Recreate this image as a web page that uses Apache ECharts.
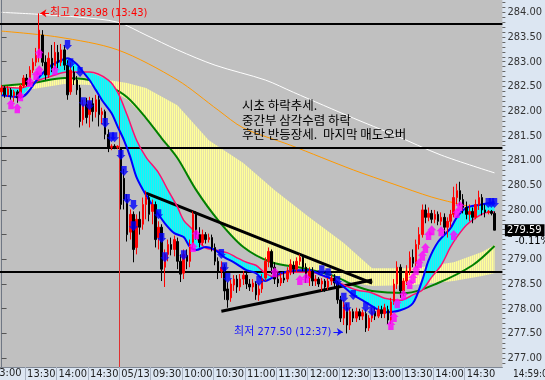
<!DOCTYPE html>
<html><head><meta charset="utf-8">
<script src="https://cdn.jsdelivr.net/npm/echarts@6/dist/echarts.min.js"></script>
<style>html,body{margin:0;padding:0;background:#dce6f2}#c{width:545px;height:380px}</style>
</head><body><div id="c"></div>
<script>
// ---- x axis: bar index (3-minute bars), 05/12 13:06 .. 05/13 14:57 ----
const xTickPos = [7.5,17.5,27.5,37.5,47.5,57.5,67.5,77.5,87.5,97.5,107.5,117.5,127.5,137.5,147.5];
const xTickLabels = ['13:30','14:00','14:30','05/13','09:30','10:00','10:30','11:00','11:30','12:00','12:30','13:00','13:30','14:00','14:30'];
const yTickLabels = [277.0,277.5,278.0,278.5,279.0,279.5,280.0,280.5,281.0,281.5,282.0,282.5,283.0,283.5,284.0];

// ---- candles [open, close, low, high] ----
const ohlc = [
[282.39,282.47,282.33,282.53],[282.47,282.33,282.27,282.51],[282.33,282.45,282.29,282.51],[282.43,282.31,282.23,282.47],
[282.31,282.39,282.19,282.43],[282.39,282.27,282.17,282.43],[282.29,282.51,282.25,282.55],[282.51,282.67,282.47,282.73],
[282.67,282.55,282.51,282.75],[282.55,282.83,282.51,282.91],[282.83,282.99,282.77,283.07],[282.99,283.13,282.91,283.28],
[283.13,283.64,282.99,283.98],[283.54,282.99,282.91,283.64],[282.99,282.73,282.63,283.13],[282.73,283.07,282.67,283.19],
[283.07,282.87,282.79,283.34],[282.87,283.19,282.83,283.40],[283.19,282.99,282.87,283.34],[282.99,283.24,282.91,283.36],
[283.24,282.93,282.83,283.34],[282.93,282.33,282.23,283.03],[282.39,282.83,282.33,282.99],[282.79,282.63,282.53,282.91],
[282.63,282.43,282.33,282.71],[282.47,281.79,281.67,282.53],[281.83,282.13,281.71,282.23],[282.13,281.87,281.75,282.27],
[281.93,282.19,281.67,282.29],[282.15,281.99,281.79,282.27],[281.99,282.23,281.87,282.33],[282.23,281.93,281.69,282.31],
[281.93,281.99,281.73,282.07],[281.99,281.53,281.43,282.03],[281.53,281.27,281.17,281.63],[281.27,281.29,281.21,281.33],
[281.29,281.27,281.23,281.33],[281.27,281.29,281.23,281.31],
// 05/13
[281.23,280.11,280.01,281.27],[280.64,280.21,280.01,280.83],[280.21,279.50,279.36,280.32],[279.55,279.91,279.40,280.01],
[279.91,279.20,278.94,279.97],[279.24,279.81,279.10,279.91],[279.81,279.65,279.50,279.97],[279.71,280.11,279.60,280.25],
[280.11,280.25,279.81,280.39],[280.25,279.91,279.77,280.34],[279.97,280.11,279.71,280.21],[280.11,279.40,279.24,280.17],
[279.44,279.65,279.20,279.77],[279.65,278.80,278.56,279.71],[278.84,279.10,278.44,279.20],[279.10,279.30,278.96,279.40],
[279.30,279.20,279.08,279.44],[279.20,279.40,279.06,279.48],[279.36,278.96,278.80,279.44],[278.96,278.70,278.54,279.10],
[278.72,279.10,278.60,279.20],[279.08,278.96,278.80,279.20],[278.96,279.30,278.84,279.40],[279.30,279.91,279.20,279.97],
[279.91,279.50,279.40,279.97],[279.50,279.34,279.24,279.65],[279.34,279.50,279.28,279.60],[279.50,279.40,279.32,279.55],
[279.40,279.44,279.34,279.52],[279.44,279.24,279.16,279.50],[279.24,278.96,278.88,279.32],[278.96,278.76,278.60,279.04],
[278.76,278.84,278.62,278.96],[278.84,278.36,278.18,278.90],[278.40,278.18,278.02,278.54],[278.22,278.50,278.14,278.60],
[278.48,278.60,278.36,278.68],[278.60,278.44,278.32,278.68],[278.44,278.60,278.36,278.70],[278.60,278.68,278.48,278.76],
[278.68,278.50,278.40,278.74],[278.50,278.44,278.36,278.60],[278.44,278.52,278.34,278.60],[278.50,278.28,278.18,278.56],
[278.28,278.40,278.16,278.52],[278.40,278.62,278.32,278.70],[278.62,278.96,278.56,279.04],[278.96,279.16,278.84,279.24],
[279.16,278.84,278.70,279.20],[278.84,278.60,278.50,278.94],[278.60,278.52,278.44,278.76],[278.52,278.62,278.46,278.72],
[278.62,278.58,278.52,278.76],[278.60,278.76,278.54,278.84],[278.76,278.90,278.68,279.00],[278.88,278.80,278.70,278.96],
[278.80,278.96,278.74,279.04],[278.96,279.04,278.88,279.10],[279.04,278.84,278.76,279.10],[278.84,278.62,278.52,278.92],
[278.62,278.76,278.46,278.84],[278.76,278.56,278.46,278.84],[278.56,278.60,278.46,278.68],[278.60,278.50,278.44,278.64],
[278.50,278.56,278.36,278.62],[278.56,278.44,278.34,278.60],[278.44,278.56,278.38,278.62],[278.56,278.62,278.48,278.68],
[278.62,278.52,278.44,278.70],[278.52,278.18,278.10,278.56],[278.18,277.81,277.73,278.26],[277.81,278.08,277.67,278.18],
[278.02,277.67,277.50,278.10],[277.67,277.94,277.57,278.02],[277.94,277.81,277.73,278.00],[277.81,277.94,277.73,278.02],
[277.94,277.85,277.77,278.00],[277.85,277.92,277.77,277.98],[277.90,277.61,277.53,277.98],[277.61,277.81,277.55,277.87],
[277.81,277.94,277.73,278.02],[277.94,277.85,277.77,278.02],[277.85,277.98,277.81,278.06],[277.98,277.90,277.81,278.06],
[277.90,278.02,277.81,278.10],[277.98,277.77,277.69,278.06],[277.77,278.14,277.69,278.22],[278.14,278.50,278.08,278.60],
[278.50,278.84,278.40,278.96],[278.84,278.36,278.22,278.90],[278.36,278.56,278.26,278.62],[278.56,278.76,278.48,278.88],
[278.76,279.04,278.68,279.16],[279.04,278.92,278.84,279.20],[278.92,279.30,278.84,279.40],[279.30,279.50,279.20,279.65],
[279.50,280.00,279.44,280.11],[280.00,279.85,279.73,280.11],[279.85,279.93,279.77,280.05],[279.93,279.81,279.73,280.00],
[279.81,279.91,279.73,280.00],[279.91,279.77,279.69,279.97],[279.77,279.85,279.69,279.95],[279.85,279.65,279.52,279.93],
[279.65,279.77,279.44,279.85],[279.77,279.91,279.65,280.00],[279.91,280.25,279.85,280.47],[280.25,280.39,280.11,280.53],
[280.39,280.21,280.09,280.57],[280.21,280.05,279.93,280.32],[280.05,279.91,279.81,280.17],[279.91,279.97,279.77,280.11],
[279.97,279.85,279.73,280.05],[279.85,280.11,279.81,280.21],[280.11,280.25,280.00,280.39],[280.25,280.00,279.89,280.32],
[280.00,279.95,279.85,280.11],[279.95,279.97,279.91,280.00],[279.97,279.93,279.89,280.00],[279.93,279.59,279.59,279.97]
];

// ---- indicator lines [barIndex, value] ----
const whiteLine = [[0,284.00],[12,283.96],[25,283.90],[37,283.80],[46,283.54],[56,283.24],[68,282.93],[84,282.63],[93,282.38],[112,281.86],[125,281.52],[140,281.11],[157,280.75]];
const orangeLine = [[0,283.62],[18,283.50],[37,283.24],[56,282.63],[69,282.02],[77,281.66],[92,281.31],[112,280.81],[125,280.52],[137,280.26],[147,280.10],[157,279.96]];
const greenLine = [[0,282.51],[10,282.57],[20,282.67],[28,282.63],[34,282.51],[40,282.28],[46,281.86],[51,281.45],[56,281.05],[62,280.40],[69,279.79],[77,279.25],[86,278.94],[96,278.82],[106,278.66],[112,278.48],[118,278.36],[129,278.32],[139,278.52],[150,278.88],[157,279.27]];
const blueLine = [[0,282.32],[6,282.28],[12,282.69],[15,282.89],[19,283.03],[21,283.07],[24,282.95],[26,282.79],[28,282.63],[30,282.43],[32,282.22],[35,281.96],[37,281.68],[39,281.41],[41,281.07],[43,280.66],[46,280.30],[49,280.00],[52,279.73],[55,279.53],[58,279.45],[60,279.25],[62,279.19],[65,279.25],[68,279.19],[71,279.04],[74,278.94],[78,278.78],[81,278.72],[84,278.56],[86,278.62],[89,278.72],[94,278.78],[98,278.78],[102,278.68],[106,278.58],[109,278.44],[112,278.28],[115,278.17],[118,278.05],[122,277.93],[127,277.97],[131,278.11],[134,278.58],[136,278.98],[139,279.35],[143,279.63],[145,279.85],[148,280.04],[152,280.10],[157,280.16]];
const pinkLine = [[0,282.49],[6,282.47],[12,282.63],[15,282.69],[21,282.79],[28,282.79],[34,282.63],[37,282.38],[40,281.92],[43,281.41],[46,281.07],[50,280.75],[53,280.40],[56,280.06],[58,279.79],[61,279.59],[63,279.35],[65,279.23],[68,279.19],[72,279.13],[75,279.03],[78,278.94],[81,278.88],[84,278.72],[87,278.64],[90,278.72],[94,278.74],[97,278.74],[100,278.72],[104,278.62],[109,278.48],[113,278.38],[118,278.32],[122,278.21],[127,278.17],[131,278.28],[134,278.38],[137,278.64],[140,278.88],[143,279.25],[145,279.45],[148,279.69],[151,279.84],[154,279.94],[157,279.96]];
const cloudUpper = [[0,282.53],[10,282.59],[20,282.69],[28,282.67],[34,282.63],[40,282.57],[46,282.47],[56,282.12],[66,281.41],[77,280.95],[87,280.40],[98,279.85],[109,279.33],[118,278.82],[131,278.82],[144,278.94],[153,279.15],[157,279.29]];
const cloudLower = [[0,282.41],[10,282.45],[20,282.55],[28,282.53],[34,282.45],[40,282.24],[46,281.84],[51,281.43],[56,281.03],[62,280.38],[69,279.77],[77,279.23],[86,278.92],[96,278.80],[106,278.64],[112,278.52],[118,278.46],[131,278.48],[144,278.56],[153,278.66],[157,278.72]];

// ---- signal arrows [barIndex, value] ----
const sellSignals = [[21,283.34],[22,282.97],[25,282.79],[26,282.18],[28,282.12],[33,281.76],[35,281.47],[36,281.47],[38,281.11],[39,280.79],[40,280.22],[42,280.10],[42,279.67],[50,279.91],[51,279.43],[52,279.04],[58,279.08],[70,279.11],[71,278.84],[72,278.62],[82,278.56],[102,278.78],[104,278.72],[107,278.56],[109,278.22],[110,278.03],[112,278.28],[116,278.03],[118,277.95],[155,280.14],[156,280.14],[157,280.14]];
const buySignals = [[3,282.14],[5,282.06],[6,282.30],[9,282.59],[11,282.73],[12,282.83],[12,283.17],[17,282.83],[61,279.25],[62,279.51],[87,278.74],[95,278.58],[97,278.62],[124,277.67],[125,277.83],[126,278.11],[128,278.28],[130,278.50],[131,278.62],[132,278.78],[133,278.92],[134,279.07],[135,279.23],[136,279.49],[137,279.59],[140,279.57],[144,279.49],[145,279.94],[146,280.08]];

// ---- reference levels ----
const hLevels = [283.76, 281.25, 278.75];
const triTop = [[46,280.34],[118,278.52]];
const triBottom = [[70,277.95],[118,278.58]];
const highPoint = {idx:12, value:283.98, text:'최고 283.98 (13:43)'};
const lowPoint = {idx:110, value:277.50, text:'최저 277.50 (12:37)'};
const lastPrice = 279.59, lastChange = '-0.11%';

const NARROW = '"Liberation Sans Narrow","DejaVu Sans Condensed","Noto Sans CJK KR",sans-serif';
const yMinor = [];
for (let k = 2769; k <= 2842; k++) yMinor.push(k / 10);

function pattern(c1, c2) {
  const cv = document.createElement('canvas'); cv.width = 2; cv.height = 2;
  const g = cv.getContext('2d');
  g.fillStyle = c1; g.fillRect(0, 0, 2, 2);
  g.fillStyle = c2; g.fillRect(1, 0, 1, 2);
  return {image: cv, repeat: 'repeat'};
}
function band(upper, lower, fill, z) {
  return {type:'custom', z, silent:true, data:[0], renderItem:(p, api) => {
    const pts = upper.map(d => api.coord(d)).concat(lower.slice().reverse().map(d => api.coord(d)));
    return {type:'polygon', shape:{points:pts}, style:{fill}};
  }};
}
function line(data, color, width, z, extra) {
  return Object.assign({type:'line', data, z, smooth:0.3, symbol:'none', silent:true,
    lineStyle:{color, width}}, extra || {});
}
const arrowDown = 'path://M2,0H8V5H10L5,10L0,5H2Z';
const arrowUp = 'path://M5,0L10,5H8V10H2V5H0Z';
const annoLabel = {fontFamily:NARROW, fontSize:11};

const markerPairs = [
  [{coord:triTop[0]}, {coord:triTop[1]}],
  [{coord:triBottom[0]}, {coord:triBottom[1]}]
].map(pair => pair.map(p => Object.assign({lineStyle:{color:'#000', width:3, type:'solid'}, label:{show:false}}, p)));
markerPairs.push([
  {coord:[highPoint.idx + 0.35, highPoint.value], symbol:'arrow', symbolSize:[6,6], lineStyle:{color:'#ff0000', width:1, type:'solid'}},
  {coord:[highPoint.idx + 3.1, highPoint.value], symbol:'none', lineStyle:{color:'#ff0000', width:1, type:'solid'},
   label:Object.assign({show:true, position:'end', distance:1, formatter:highPoint.text, color:'#ff0000'}, annoLabel)}
]);
markerPairs.push([
  {coord:[lowPoint.idx - 4.3, lowPoint.value + 0.03], symbol:'none', lineStyle:{color:'#1515ff', width:1, type:'solid'},
   label:Object.assign({show:true, position:'start', distance:2, formatter:lowPoint.text, color:'#1515ff'}, annoLabel)},
  {coord:[lowPoint.idx - 1.3, lowPoint.value + 0.03], symbol:'arrow', symbolSize:[6,6], lineStyle:{color:'#1515ff', width:1, type:'solid'}}
]);

const chart = echarts.init(document.getElementById('c'), null, {renderer:'canvas'});
chart.setOption({
  animation:false,
  backgroundColor:'#dce6f2',
  grid:{left:0, right:34, top:0, bottom:13, show:true, backgroundColor:'#c0c0c0', borderWidth:0},
  xAxis:{type:'value', min:-0.5, max:159.5, splitLine:{show:false},
    axisLine:{show:true, onZero:false, lineStyle:{color:'#7f8794'}},
    axisTick:{show:true, customValues:xTickPos, length:13, lineStyle:{color:'#a9b2c2'}},
    axisLabel:{customValues:xTickPos, align:'left', margin:2, padding:[0,0,0,2],
      formatter:v => { const i = xTickPos.findIndex(t => Math.abs(t - v) < 0.01); return i >= 0 ? xTickLabels[i] : ''; },
      fontFamily:NARROW, fontSize:11, color:'#1e1e1e'}},
  yAxis:[
    {type:'value', position:'right', min:276.82, max:284.25, splitLine:{show:false},
      axisLine:{show:true, lineStyle:{color:'#6f7784'}},
      axisTick:{show:true, customValues:yTickLabels, length:5, lineStyle:{color:'#555'}},
      axisLabel:{customValues:yTickLabels, formatter:v => v.toFixed(2), margin:5,
        fontFamily:NARROW, fontSize:11, color:'#333'}},
    {type:'value', position:'right', min:276.82, max:284.25, splitLine:{show:false},
      axisLine:{show:false}, axisLabel:{show:false},
      axisTick:{show:true, customValues:yMinor, length:3, lineStyle:{color:'#666'}}}
  ],
  series:[
    band(cloudUpper, cloudLower, pattern('#ffff99', '#e6e2a8'), 1),
    line(whiteLine, '#ffffff', 1, 2),
    line(orangeLine, '#ff9900', 1, 2),
    line(greenLine, '#008000', 2, 3),
    band(blueLine, pinkLine, pattern('#00ffff', '#40e0e8'), 4),
    line(pinkLine, '#ff1070', 1.5, 5),
    line(blueLine, '#0000ff', 2, 5, {
      markLine:{silent:true, symbol:['none','none'], label:{show:false},
        data:[
          ...hLevels.map(v => ({yAxis:v, lineStyle:{color:'#000', width:2, type:'solid'}})),
          {xAxis:37.5, lineStyle:{color:'#e03030', width:1, type:'solid'}}
        ]}
    }),
    {type:'candlestick', z:6, silent:true, barWidth:2,
      data:ohlc.map((d, i) => [i, d[0], d[1], d[2], d[3]]),
      itemStyle:{color:'#ff0000', color0:'#000000', borderColor:'#ff0000', borderColor0:'#000000', borderWidth:1},
      markLine:{silent:true, symbol:['none','none'], data:markerPairs},
      markPoint:{silent:true, symbol:'rect', symbolSize:[1,1], itemStyle:{color:'rgba(0,0,0,0)'},
        data:[{coord:[159.5, lastPrice],
          label:{show:true, position:'right', distance:2, formatter:lastPrice.toFixed(2), color:'#fff',
            backgroundColor:'#000', padding:[1,3,0,2], fontFamily:NARROW, fontSize:11}}]}
    },
    {type:'scatter', z:8, silent:true, data:sellSignals, symbol:arrowDown, symbolSize:[9,10], itemStyle:{color:'#0000ff'}},
    {type:'scatter', z:8, silent:true, data:buySignals, symbol:arrowUp, symbolSize:[9,10], itemStyle:{color:'#ff00ff'}}
  ],
  graphic:[
    {type:'text', left:242, top:98, z:100, silent:true,
      style:{text:'시초 하락추세.\n중간부 삼각수렴 하락\n후반 반등장세.  마지막 매도오버', fill:'#000',
        font:'12.5px "Noto Sans CJK KR"', lineHeight:14.5}},
    {type:'text', x:-7, y:368, z:100, silent:true, style:{text:'13:00', fill:'#1e1e1e', font:'11px ' + NARROW}},
    {type:'text', x:512, y:236, z:100, silent:true,
      style:{text:lastChange, fill:'#000', font:'11px ' + NARROW, backgroundColor:'#dce6f2', padding:[0,4,1,3]}},
    {type:'text', x:513, y:369, z:100, silent:true, style:{text:'14:59:0', fill:'#1e1e1e', font:'10px ' + NARROW}}
  ]
});
</script></body></html>
